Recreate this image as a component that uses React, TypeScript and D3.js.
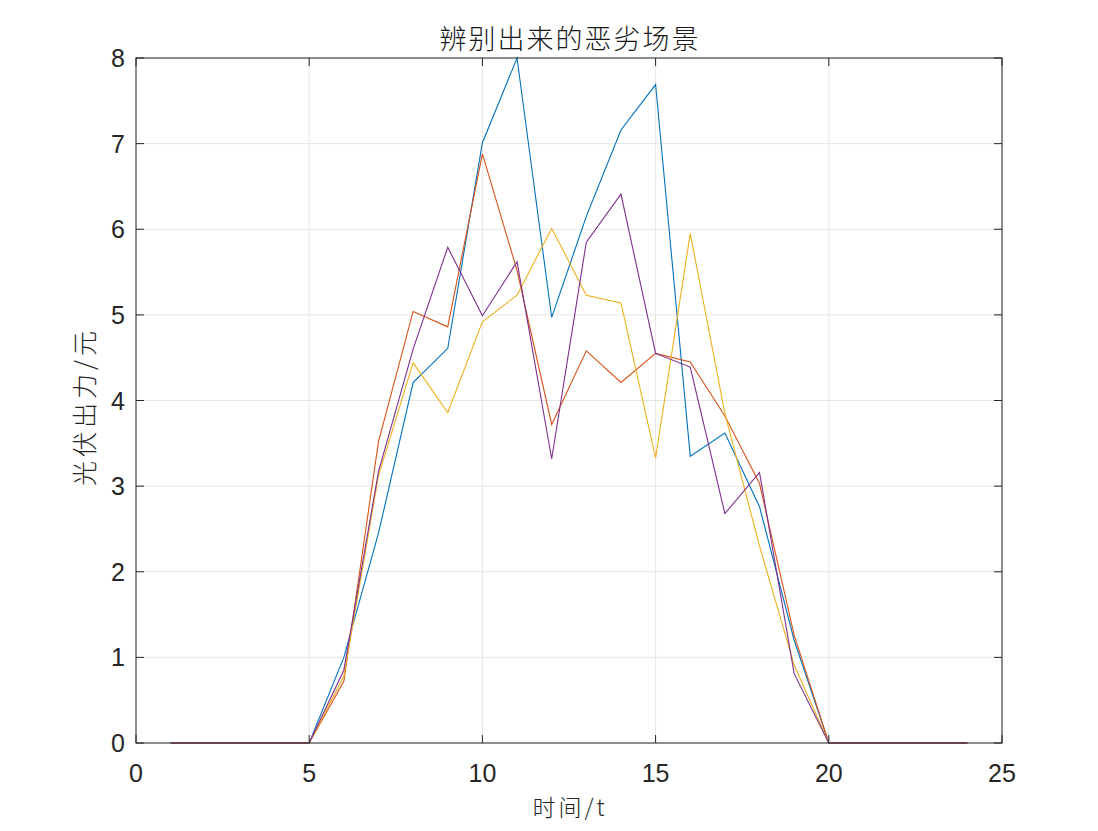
import React from "react";
import * as d3 from "d3";

const hours = [1,2,3,4,5,6,7,8,9,10,11,12,13,14,15,16,17,18,19,20,21,22,23,24];
const seriesBlue   = [0,0,0,0,0,1.0,2.45,4.21,4.61,7.01,8.0,4.97,6.15,7.16,7.69,3.35,3.62,2.76,1.2,0,0,0,0,0];
const seriesOrange = [0,0,0,0,0,0.72,3.52,5.04,4.86,6.88,5.52,3.72,4.58,4.21,4.55,4.45,3.82,3.03,1.26,0,0,0,0,0];
const seriesYellow = [0,0,0,0,0,0.78,3.12,4.44,3.86,4.92,5.23,6.01,5.23,5.14,3.33,5.95,3.85,2.3,0.91,0,0,0,0,0];
const seriesPurple = [0,0,0,0,0,0.85,3.17,4.6,5.79,4.99,5.62,3.32,5.85,6.41,4.55,4.39,2.68,3.16,0.81,0,0,0,0,0];
const seriesList = [seriesBlue, seriesOrange, seriesYellow, seriesPurple];
const colors = ["#0072BD", "#D95319", "#EDB120", "#7E2F8E"];
const xTicks = [0, 5, 10, 15, 20, 25];
const yTicks = [0, 1, 2, 3, 4, 5, 6, 7, 8];
const title = "辨别出来的恶劣场景";
const xLabel = "时间/t";
const yLabel = "光伏出力/元";

export default function App() {
  const W = 1098, H = 831;
  const left = 136, right = 1002, top = 58, bottom = 743;
  const x = d3.scaleLinear().domain([0, 25]).range([left, right]);
  const y = d3.scaleLinear().domain([0, 8]).range([bottom, top]);
  const line = d3.line<number>().x((_, i) => x(hours[i])).y(d => y(d));
  const axisColor = "#262626";
  const font = "'Liberation Sans', Arial, sans-serif";
  const cjk = "'Noto Sans CJK SC', sans-serif";
  const tl = 8;
  return (
    <svg width={W} height={H} style={{ position: "absolute", left: 0, top: 0, background: "#fff" }}>
      <rect x={0} y={0} width={W} height={H} fill="#fff" />
      <rect x={left} y={top} width={right - left} height={bottom - top} fill="#fff" />
      {xTicks.map(t => (
        <line key={"gx" + t} x1={x(t)} x2={x(t)} y1={top} y2={bottom} stroke="#e6e6e6" strokeWidth={1} />
      ))}
      {yTicks.map(t => (
        <line key={"gy" + t} x1={left} x2={right} y1={y(t)} y2={y(t)} stroke="#e6e6e6" strokeWidth={1} />
      ))}
      {seriesList.map((s, k) => (
        <path key={k} d={line(s) || ""} fill="none" stroke={colors[k]} strokeWidth={1.1} />
      ))}
      <rect x={left} y={top} width={right - left} height={bottom - top} fill="none" stroke={axisColor} strokeWidth={1} />
      {xTicks.map(t => (
        <g key={"tx" + t}>
          <line x1={x(t)} x2={x(t)} y1={bottom} y2={bottom - tl} stroke={axisColor} />
          <line x1={x(t)} x2={x(t)} y1={top} y2={top + tl} stroke={axisColor} />
          <text x={x(t)} y={bottom + 39} textAnchor="middle" fontSize={25} fill={axisColor} fontFamily={font}>{t}</text>
        </g>
      ))}
      {yTicks.map(t => (
        <g key={"ty" + t}>
          <line x1={left} x2={left + tl} y1={y(t)} y2={y(t)} stroke={axisColor} />
          <line x1={right} x2={right - tl} y1={y(t)} y2={y(t)} stroke={axisColor} />
          <text x={left - 11} y={y(t) + 9} textAnchor="end" fontSize={25} fill={axisColor} fontFamily={font}>{t}</text>
        </g>
      ))}
      <text x={(left + right) / 2 + 1} y={49} textAnchor="middle" fontSize={27} letterSpacing={2} fill="#1a1a1a" fontWeight={300} fontFamily={cjk}>{title}</text>
      <text x={(left + right) / 2 + 1} y={816} textAnchor="middle" fontSize={23} letterSpacing={3} fill={axisColor} fontWeight={300} fontFamily={cjk}>{xLabel}</text>
      <text transform={`translate(94, ${(top + bottom) / 2 + 6}) rotate(-90)`} textAnchor="middle" fontSize={25} letterSpacing={4} fill={axisColor} fontWeight={300} fontFamily={cjk}>{yLabel}</text>
    </svg>
  );
}
